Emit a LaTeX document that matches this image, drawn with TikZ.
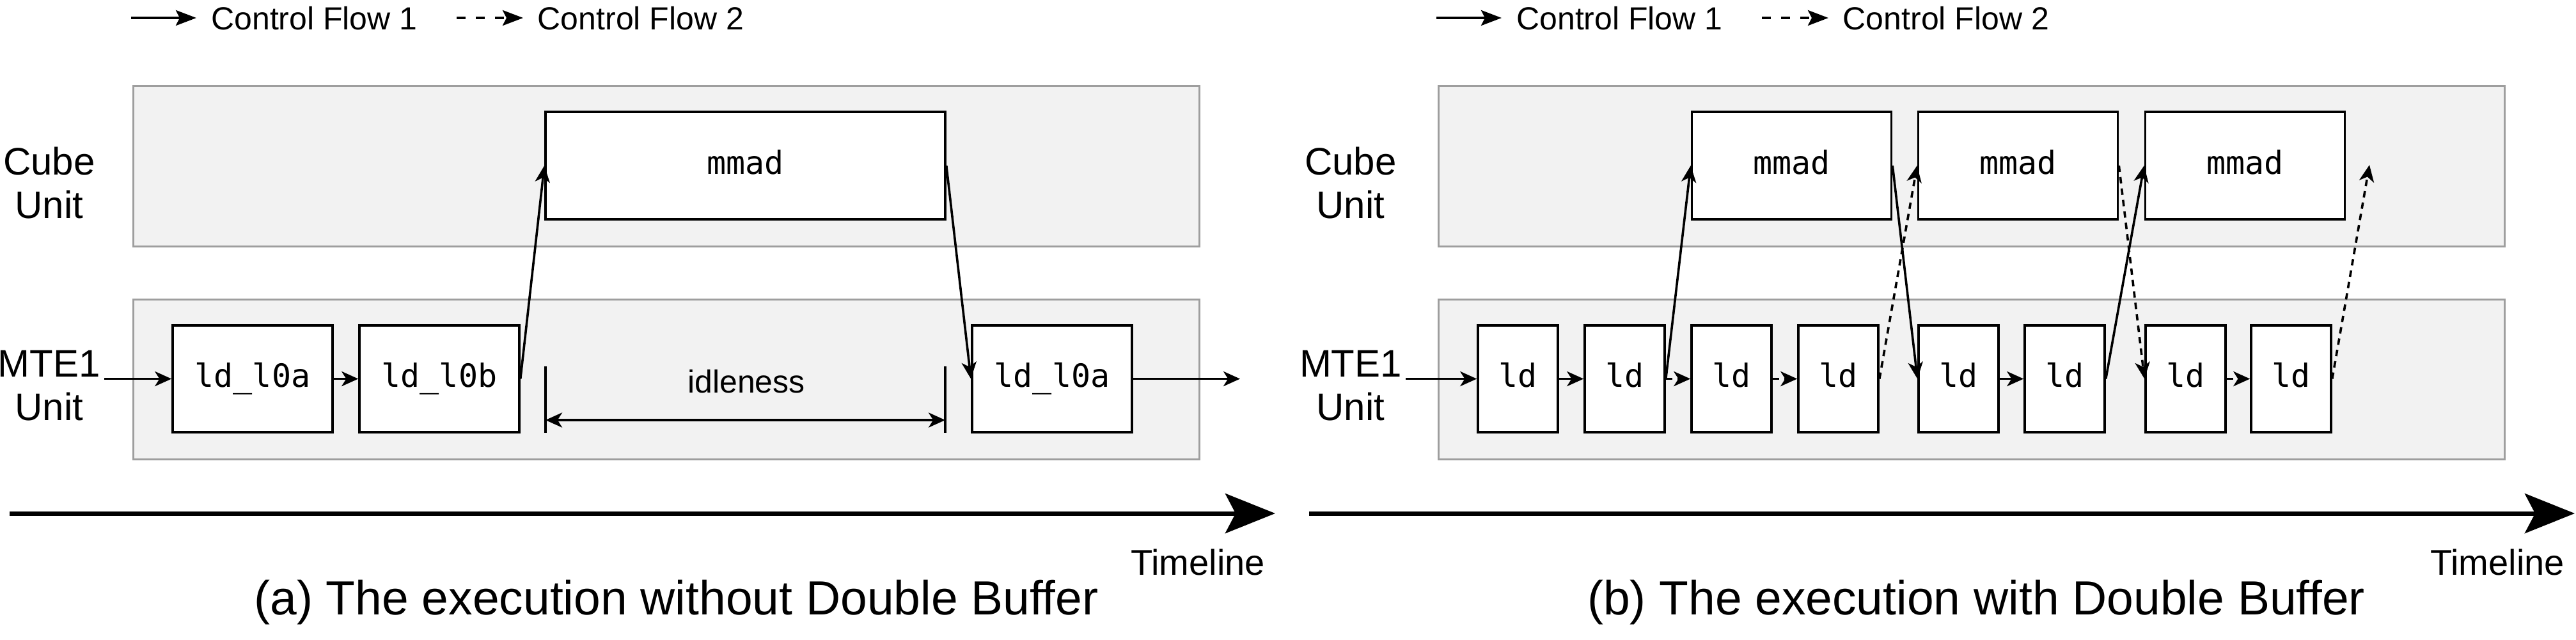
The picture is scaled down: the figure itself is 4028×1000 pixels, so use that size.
\documentclass[tikz,border=0pt]{standalone}
\usepackage{fontspec}
\setmainfont{Liberation Sans}
\newfontfamily\monof{DejaVu Sans Mono}
\usetikzlibrary{arrows.meta}
\definecolor{panelfill}{HTML}{F2F2F2}
\definecolor{panelline}{HTML}{9E9E9E}
\begin{document}
\begin{tikzpicture}[x=0.25pt,y=-0.25pt,
  panel/.style={draw=panelline, fill=panelfill, line width=0.75pt, minimum width=416.75pt, inner sep=0},
  opbox/.style={draw=black, fill=white, line width=0.9pt, inner sep=0,
    font=\monof\fontsize{12.5}{15}\selectfont, text height=9.5pt, text depth=3pt},
  ldwide/.style={opbox, minimum width=62.5pt, minimum height=41.75pt},
  ldnar/.style={opbox, minimum width=31.25pt, minimum height=41.75pt},
  mmadwide/.style={opbox, minimum width=156.25pt, minimum height=42pt},
  mmadnar/.style={opbox, minimum width=78pt, minimum height=42pt},
  unitlbl/.style={inner sep=0, align=center, font=\fontsize{15}{17}\selectfont},
  legtext/.style={inner sep=0, anchor=west, font=\fontsize{12.5}{15}\selectfont},
  idletext/.style={inner sep=0, font=\fontsize{12.5}{15}\selectfont},
  tltext/.style={inner sep=0, font=\fontsize{14}{17}\selectfont},
  captext/.style={inner sep=0, font=\fontsize{18.75}{22}\selectfont},
  tip/.tip={Stealth[length=6.5pt,width=5.8pt,inset=1.8pt]},
  legtip/.tip={Stealth[length=8pt,width=6pt,inset=1.5pt]},
  flow/.style={line width=0.9pt, -tip},
  flowd/.style={flow, dash pattern=on 2.5pt off 2pt},
  legflow/.style={line width=1pt, -legtip},
  legflowd/.style={legflow, dash pattern=on 3.5pt off 4pt},
  timeline/.style={line width=1.75pt, -{Stealth[length=19.5pt,width=15.5pt,inset=4pt]}},
  bar/.style={line width=0.9pt}
]
\useasboundingbox (0,0) rectangle (4028,1000);

% ================= (a) =================
% legend
\coordinate (lgA1s) at (205,28);
\coordinate (lgA1e) at (307,28);
\draw[legflow] (lgA1s) -- (lgA1e);
\node[legtext] (lgA1t) at (329.5,29) {Control Flow 1};
\coordinate (lgA2s) at (714,28);
\coordinate (lgA2e) at (818,28);
\draw[legflowd] (lgA2s) -- (lgA2e);
\node[legtext] (lgA2t) at (840,29) {Control Flow 2};

% panels
\node[panel, minimum height=62.75pt] (cubeA) at (1041.5,259.5) {};
\node[panel, minimum height=62.5pt] (mteA) at (1041.5,593) {};
\node[unitlbl] (cubeLA) at (77,286) {Cube\\Unit};
\node[unitlbl] (mteLA) at (77,603) {MTE1\\Unit};

% boxes
\node[mmadwide] (mmadA) at (1165.5,259) {mmad};
\node[ldwide] (a1) at (395,592.5) {ld\_l0a};
\node[ldwide] (a2) at (687,592.5) {ld\_l0b};
\node[ldwide] (a3) at (1645,592.5) {ld\_l0a};

% connectors
\coordinate (inA) at (163,592.5);
\coordinate (outA) at (1939,592.5);
\draw[flow] (inA) -- (a1.west);
\draw[flow] (a1.east) -- (a2.west);
\draw[flow] (a2.east) -- (mmadA.west);
\draw[flow] (mmadA.east) -- (a3.west);
\draw[flow] (a3.east) -- (outA);

% idleness
\coordinate (i1t) at (853,573);
\coordinate (i1b) at (853,677);
\coordinate (i2t) at (1478,573);
\coordinate (i2b) at (1478,677);
\draw[bar] (i1t) -- (i1b);
\draw[bar] (i2t) -- (i2b);
\coordinate (d1) at (853,657);
\coordinate (d2) at (1478,657);
\draw[line width=0.9pt, tip-tip] (d1) -- (d2);
\node[idletext] (idle) at (1167,596.5) {idleness};

% timeline
\coordinate (tA0) at (15,803);
\coordinate (tA1) at (1994,803);
\draw[timeline] (tA0) -- (tA1);
\node[tltext] (tlA) at (1873,879) {Timeline};
\node[captext] (capA) at (1057.5,942) {(a) The execution without Double Buffer};

% ================= (b) =================
% legend
\coordinate (lgB1s) at (2246,28);
\coordinate (lgB1e) at (2348,28);
\draw[legflow] (lgB1s) -- (lgB1e);
\node[legtext] (lgB1t) at (2370.5,29) {Control Flow 1};
\coordinate (lgB2s) at (2755,28);
\coordinate (lgB2e) at (2859,28);
\draw[legflowd] (lgB2s) -- (lgB2e);
\node[legtext] (lgB2t) at (2881,29) {Control Flow 2};

% panels
\node[panel, minimum height=62.75pt] (cubeB) at (3082.5,259.5) {};
\node[panel, minimum height=62.5pt] (mteB) at (3082.5,593) {};
\node[unitlbl] (cubeLB) at (2112,286) {Cube\\Unit};
\node[unitlbl] (mteLB) at (2112,603) {MTE1\\Unit};

% mmad boxes
\node[mmadnar] (m1) at (2801.5,259) {mmad};
\node[mmadnar] (m2) at (3155.5,259) {mmad};
\node[mmadnar] (m3) at (3510.5,259) {mmad};

% ld boxes
\node[ldnar] (b1) at (2373.5,592.5) {ld};
\node[ldnar] (b2) at (2540.5,592.5) {ld};
\node[ldnar] (b3) at (2707.5,592.5) {ld};
\node[ldnar] (b4) at (2874.5,592.5) {ld};
\node[ldnar] (b5) at (3062.5,592.5) {ld};
\node[ldnar] (b6) at (3228.5,592.5) {ld};
\node[ldnar] (b7) at (3417.5,592.5) {ld};
\node[ldnar] (b8) at (3582.5,592.5) {ld};

% connectors
\coordinate (inB) at (2198,592.5);
\coordinate (freeB) at (3705,258);
\draw[flow] (inB) -- (b1.west);
\draw[flow] (b1.east) -- (b2.west);
\draw[flowd] (b2.east) -- (b3.west);
\draw[flowd] (b3.east) -- (b4.west);
\draw[flow] (b5.east) -- (b6.west);
\draw[flowd] (b7.east) -- (b8.west);
\draw[flow] (b2.east) -- (m1.west);
\draw[flow] (m1.east) -- (b5.west);
\draw[flowd] (b4.east) -- (m2.west);
\draw[flowd] (m2.east) -- (b7.west);
\draw[flow] (b6.east) -- (m3.west);
\draw[flowd] (b8.east) -- (freeB);

% timeline
\coordinate (tB0) at (2047,803);
\coordinate (tB1) at (4026,803);
\draw[timeline] (tB0) -- (tB1);
\node[tltext] (tlB) at (3905,879) {Timeline};
\node[captext] (capB) at (3090,942) {(b) The execution with Double Buffer};
\end{tikzpicture}
\end{document}
